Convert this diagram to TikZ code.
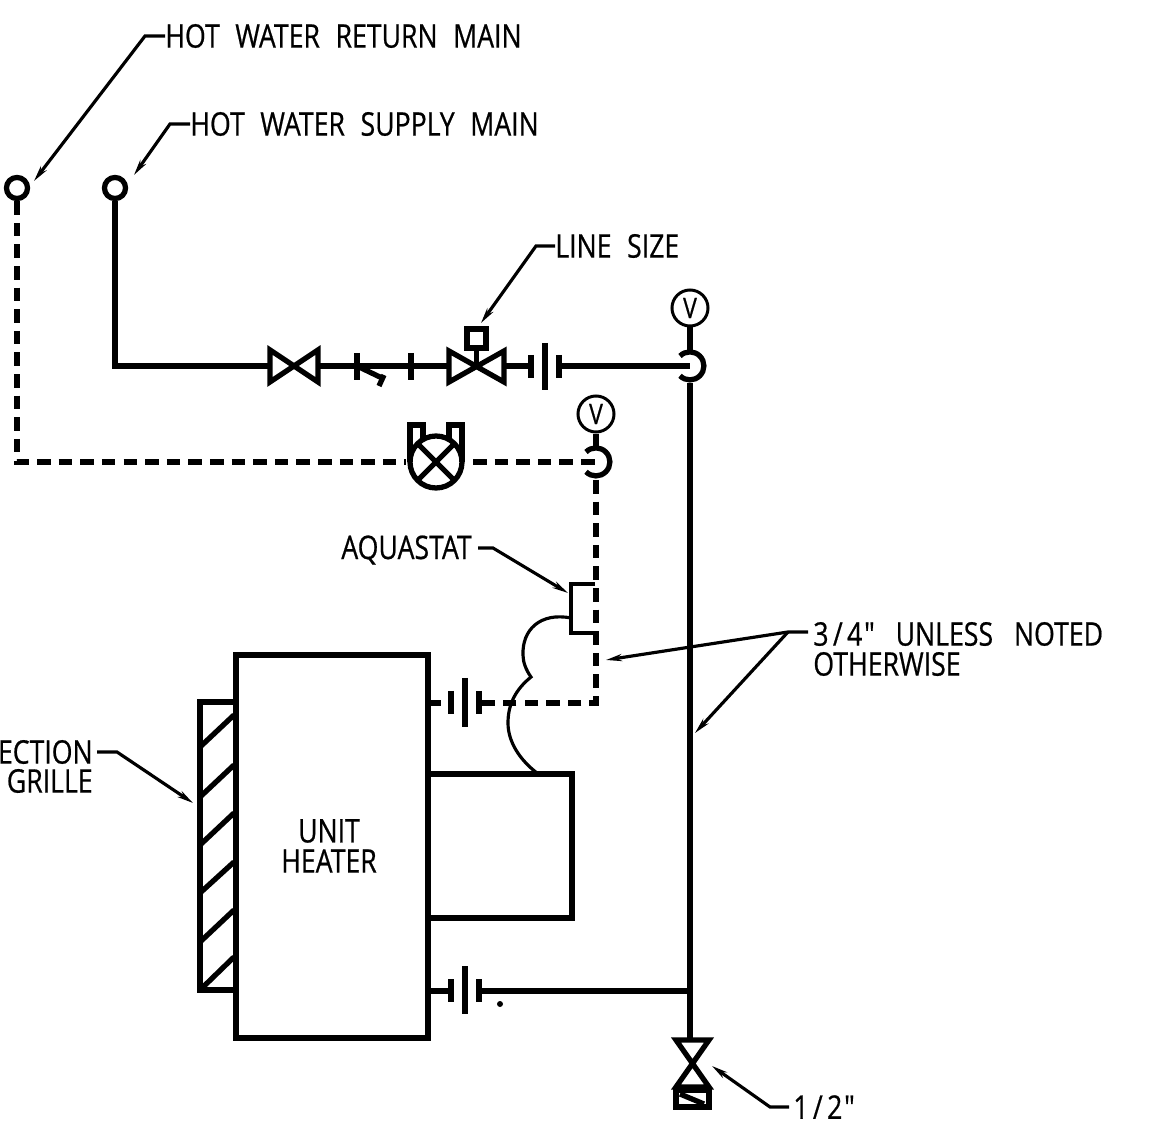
\documentclass[tikz,border=0pt]{standalone}
\usepackage{fontspec}
\setmainfont{Open Sans}[Ligatures=TeXOff,FakeStretch=0.82,FakeBold=0.6]
\usetikzlibrary{arrows.meta}
\newcommand{\cadfont}{\fontsize{18.5}{22}\selectfont\spaceskip=.48em\relax}

\begin{document}
\begin{tikzpicture}[x=.02cm,y=-.02cm]
\tikzstyle{pipe}=[line width=3pt]
\tikzstyle{dashpipe}=[line width=3pt, dash pattern=on 7.7pt off 4.6pt]
\tikzstyle{thin}=[line width=1.8pt]
\tikzstyle{leader}=[line width=1.8pt, -{Stealth[length=9pt,width=4pt]}]
\tikzstyle{label}=[inner sep=0pt, anchor=west, font=\cadfont]
\tikzstyle{vent}=[circle, draw, line width=1.7pt, minimum size=20.5pt, inner sep=0pt, font=\fontsize{16}{16}\selectfont]
\tikzstyle{main}=[circle, draw, line width=3pt, minimum size=12pt, inner sep=0pt]
\useasboundingbox (0,0) rectangle (1164,1128);

% labels
\node[label] (returntxt) at (165,36) {HOT WATER RETURN MAIN};
\node[label] (supplytxt) at (190,124) {HOT WATER SUPPLY MAIN};
\node[label] (linetxt) at (555,246) {LINE SIZE};
\node[label] (aquatxt) at (341,550) {AQUASTAT};
\node[label] (notedtxt) at (813,634) {3\kern2.5pt/\kern2.5pt4\kern1pt" \kern3pt UNLESS \kern3pt NOTED};
\node[label] (othertxt) at (813,664) {OTHERWISE};
\node[label, anchor=east] (directtxt) at (93,752) {ECTION};
\node[label, anchor=east] (grilletxt) at (93,781) {GRILLE};
\node[label] (drivetxt) at (793,1107) {1\kern2.5pt/\kern2.5pt2\kern1pt"};
\node[label, anchor=center] (unittxt) at (329,831) {UNIT};
\node[label, anchor=center] (heatertxt) at (329,861) {HEATER};

% mains and vents
\node[main] (retmain) at (17,188) {};
\node[main] (supmain) at (115,188) {};
\node[vent] (venta) at (690,308) {V};
\node[vent] (ventb) at (596,414) {V};

\coordinate (supcorner) at (115,366);
\coordinate (gatel) at (270,366);
\coordinate (gater) at (318,366);
\coordinate (ctrll) at (449,366);
\coordinate (ctrlr) at (504,366);
\coordinate (unionl) at (531,366);
\coordinate (unionr) at (559,366);
\coordinate (crossa) at (690,366);
\coordinate (crossb) at (596,462);
\coordinate (retcorner) at (17,462);
\coordinate (balancel) at (406,462);
\coordinate (balancer) at (473,462);
\coordinate (lowcorner) at (596,703);
\coordinate (riser) at (690,991);
\coordinate (drain) at (690,1040);
\coordinate (hwin) at (428,991);
\coordinate (hwina) at (451,991);
\coordinate (hwinb) at (479,991);
\coordinate (hwout) at (428,703);
\coordinate (hwouta) at (451,703);
\coordinate (hwoutb) at (479,703);

% supply side
\draw[pipe] (supmain) -- (supcorner) -- (gatel);
\draw[pipe] (gater) -- (ctrll);
\draw[pipe] (ctrlr) -- (unionl);
\draw[pipe] (unionr) -- (crossa);
\draw[pipe] (270,350) -- (318,382) -- (318,350) -- (270,382) -- cycle;
\draw[pipe] (357,353) -- (357,380);
\draw[pipe] (357,366) -- (382,378);
\draw[pipe] (384,375) -- (379,386);
\draw[pipe] (411,353) -- (411,380);
\draw[pipe] (449,351) -- (504,382) -- (504,351) -- (449,382) -- cycle;
\draw[pipe] (476.5,366) -- (476.5,348);
\draw[pipe] (467,329) rectangle (486,348);
\draw[pipe] (unionl |- 0,355) -- (unionl |- 0,378);
\draw[pipe] (545,343) -- (545,390);
\draw[pipe] (unionr |- 0,355) -- (unionr |- 0,378);
\draw[pipe] (venta) -- (690,353);
\draw[pipe] (680,356) arc (-135:135:14);
\draw[pipe] (690,383) -- (riser) -- (drain);

% return side
\draw[dashpipe] (retmain) -- (retcorner) -- (balancel);
\draw[dashpipe] (balancer) -- (crossb);
\draw[pipe] (ventb) -- (596,449);
\draw[pipe] (586,452) arc (-135:135:14);
\draw[dashpipe] (596,480) -- (lowcorner) -- (hwoutb);
\draw[pipe] (436,462) circle (26);
\draw[pipe] (418,444) -- (454,480);
\draw[pipe] (454,444) -- (418,480);
\draw[pipe] (423,438) -- (423,425) -- (410,425) -- (410,462);
\draw[pipe] (449,438) -- (449,425) -- (462,425) -- (462,462);

% unit heater
\draw[pipe] (236,655) rectangle (428,1038);
\draw[pipe] (428,774) -- (572,774) -- (572,918) -- (428,918);
\draw[pipe] (200,702) rectangle (236,990);
\draw[pipe] (200,747) -- (234,715);
\draw[pipe] (200,797) -- (234,765);
\draw[pipe] (200,845) -- (234,813);
\draw[pipe] (200,893) -- (234,862);
\draw[pipe] (200,942) -- (234,910);
\draw[pipe] (200,990) -- (234,957);
\draw[pipe] (hwout) -- (441,703);
\draw[pipe] (hwoutb) -- (491,703);
\draw[pipe] (hwouta |- 0,691) -- (hwouta |- 0,714);
\draw[pipe] (465,678) -- (465,727);
\draw[pipe] (hwoutb |- 0,691) -- (hwoutb |- 0,714);
\draw[pipe] (hwin) -- (hwina);
\draw[pipe] (hwinb) -- (riser);
\draw[pipe] (hwina |- 0,979) -- (hwina |- 0,1002);
\draw[pipe] (465,966) -- (465,1014);
\draw[pipe] (hwinb |- 0,979) -- (hwinb |- 0,1002);
\fill (500,1004) circle (3);

% drain valve
\draw[pipe] (676,1040) -- (709,1040) -- (676,1087) -- (709,1087) -- cycle;
\draw[pipe] (676,1090) rectangle (709,1107);
\draw[pipe] (680,1094) -- (704,1104);

% aquastat and bulb
\draw[thin] (595,584) -- (571,584) -- (571,633) -- (595,633);
\draw[thin] (571,618) .. controls (540,612) and (522,630) .. (523,655) .. controls (523,662) and (526,670) .. (531,677) .. controls (515,690) and (508,705) .. (508,723) .. controls (508,742) and (520,760) .. (537,773);

% leaders
\draw[leader] (returntxt.west) -- (145,36) -- (34,181);
\draw[leader] (supplytxt.west) -- (170,124) -- (134,175);
\draw[leader] (linetxt.west) -- (536,246) -- (481,323);
\draw[leader] (aquatxt.east) ++(6,-2) -- (493,548) -- (568,593);
\draw[leader] (directtxt.east) ++(4,0) -- (117,752) -- (193,803);
\draw[leader] (notedtxt.west) ++(-5,-2) -- (788,632) -- (606,660);
\draw[leader] (788,632) -- (695,733);
\draw[leader] (drivetxt.west) ++(-4,0) -- (770,1107) -- (712,1066);

\end{tikzpicture}
\end{document}
